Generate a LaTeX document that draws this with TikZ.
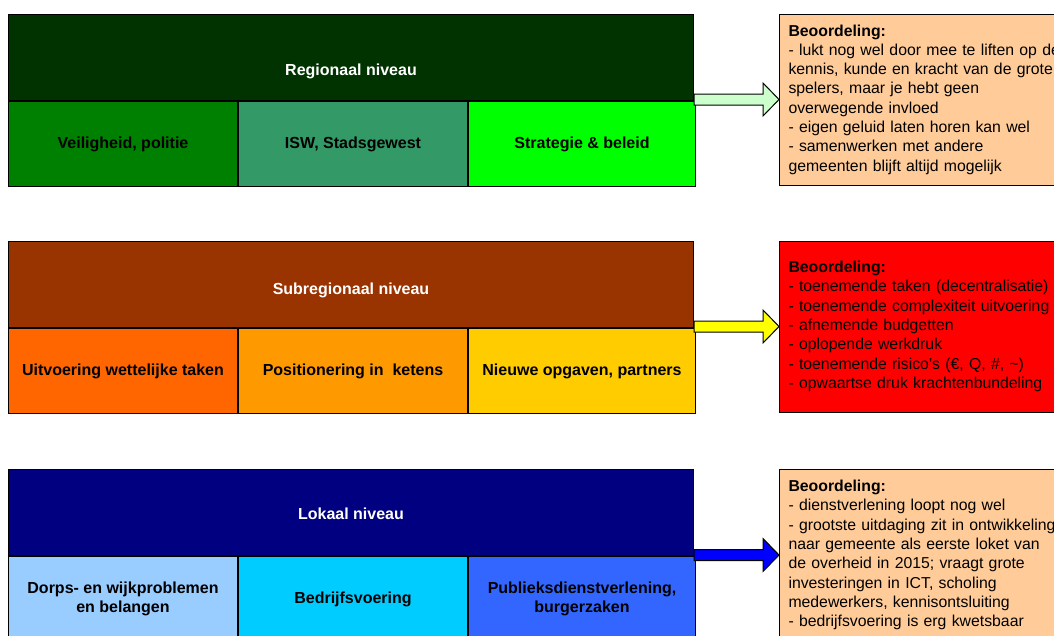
\documentclass[tikz,border=0pt]{standalone}
\usepackage{fontspec}
\setmainfont{Liberation Sans}
\usetikzlibrary{calc}
\definecolor{regiokop}{HTML}{003300}
\definecolor{veiliggroen}{HTML}{008000}
\definecolor{iswgroen}{HTML}{339966}
\definecolor{stratgroen}{HTML}{00FF00}
\definecolor{pijlgroen}{HTML}{CCFFCC}
\definecolor{perzik}{HTML}{FFCC99}
\definecolor{subkop}{HTML}{993300}
\definecolor{uitvoeroranje}{HTML}{FF6600}
\definecolor{ketenoranje}{HTML}{FF9900}
\definecolor{nieuwgeel}{HTML}{FFCC00}
\definecolor{pijlgeel}{HTML}{FFFF00}
\definecolor{alarmrood}{HTML}{FF0000}
\definecolor{lokaalkop}{HTML}{000080}
\definecolor{dorpsblauw}{HTML}{99CCFF}
\definecolor{bedrijfblauw}{HTML}{00CCFF}
\definecolor{publiekblauw}{HTML}{3366FF}
\definecolor{pijlblauw}{HTML}{0000FF}
\tikzstyle{niveau} = [draw,line width=1pt,anchor=north west,minimum width=685pt,minimum height=86pt,inner sep=0pt,text=white,font=\fontsize{16}{19}\selectfont\bfseries]
\tikzstyle{taak} = [draw,line width=1pt,anchor=north west,minimum height=85pt,inner sep=2pt,align=center,font=\fontsize{16}{19.5}\selectfont\bfseries]
\tikzstyle{oordeel} = [draw,line width=1pt,anchor=west,text width=320pt,inner xsep=9pt,align=left,font=\fontsize{15.8}{19.3}\selectfont]
\tikzstyle{pijl} = [draw,line width=1pt,line join=miter]
% block arrow from the band to its judgement box
\newcommand{\blokpijl}[3]{%
  \draw[pijl,fill=#3] let \p1=(#1), \p2=(#2) in
    (\x1,\y2+5.5pt) -- (\x2-16pt,\y2+5.5pt) -- (\x2-16pt,\y2+16.5pt) -- (\x2,\y2)
    -- (\x2-16pt,\y2-16.5pt) -- (\x2-16pt,\y2-5.5pt) -- (\x1,\y2-5.5pt) -- cycle;}

\begin{document}
\begin{tikzpicture}[x=1pt,y=-1pt]
  \clip (0,0) rectangle (1054,635);
  % Regionaal niveau
  \node[niveau,fill=regiokop,text height=40pt,text depth=3.4pt] (regio) at (8,14) {Regionaal niveau};
  \node[taak,fill=veiliggroen,minimum width=229pt] (veilig) at (regio.south west) {Veiligheid, politie};
  \node[taak,fill=iswgroen,minimum width=229pt] (isw) at (veilig.north east) {ISW, Stadsgewest};
  \node[taak,fill=stratgroen,minimum width=227pt] (strat) at (isw.north east) {Strategie \& beleid};
  \node[oordeel,fill=perzik,minimum height=171pt] (oordeel1) at (779,99.5) {%
    \textbf{Beoordeling:}\\
    - lukt nog wel door mee te liften op de\\
    kennis, kunde en kracht van de grote\\
    spelers, maar je hebt geen\\
    overwegende invloed\\
    - eigen geluid laten horen kan wel\\
    - samenwerken met andere\\
    gemeenten blijft altijd mogelijk};
  \blokpijl{regio.south east}{oordeel1.west}{pijlgroen}
  % Subregionaal niveau
  \node[niveau,fill=subkop,text height=23.5pt,text depth=3.4pt] (subregio) at (8,241) {Subregionaal niveau};
  \node[taak,fill=uitvoeroranje,minimum width=229pt] (uitvoer) at (subregio.south west) {Uitvoering wettelijke taken};
  \node[taak,fill=ketenoranje,minimum width=229pt] (keten) at (uitvoer.north east) {Positionering in~ ketens};
  \node[taak,fill=nieuwgeel,minimum width=227pt] (nieuw) at (keten.north east) {Nieuwe opgaven, partners};
  \node[oordeel,fill=alarmrood,minimum height=171pt] (oordeel2) at (779,326.5) {%
    \textbf{Beoordeling:}\\
    - toenemende taken (decentralisatie)\\
    - toenemende complexiteit uitvoering\\
    - afnemende budgetten\\
    - oplopende werkdruk\\
    - toenemende risico’s (€, Q, \#, \textasciitilde)\\
    - opwaartse druk krachtenbundeling};
  \blokpijl{subregio.south east}{oordeel2.west}{pijlgeel}
  % Lokaal niveau
  \node[niveau,fill=lokaalkop,text height=17.5pt,text depth=3.4pt] (lokaal) at (8,469) {Lokaal niveau};
  \node[taak,fill=dorpsblauw,minimum width=229pt] (dorps) at (lokaal.south west) {Dorps- en wijkproblemen\\en belangen};
  \node[taak,fill=bedrijfblauw,minimum width=229pt] (bedrijf) at (dorps.north east) {Bedrijfsvoering};
  \node[taak,fill=publiekblauw,minimum width=227pt] (publiek) at (bedrijf.north east) {Publieksdienstverlening,\\burgerzaken};
  \node[oordeel,fill=perzik,minimum height=172pt] (oordeel3) at (779,555) {%
    \textbf{Beoordeling:}\\
    - dienstverlening loopt nog wel\\
    - grootste uitdaging zit in ontwikkeling\\
    naar gemeente als eerste loket van\\
    de overheid in 2015; vraagt grote\\
    investeringen in ICT, scholing\\
    medewerkers, kennisontsluiting\\
    - bedrijfsvoering is erg kwetsbaar};
  \blokpijl{lokaal.south east}{oordeel3.west}{pijlblauw}
\end{tikzpicture}
\end{document}
